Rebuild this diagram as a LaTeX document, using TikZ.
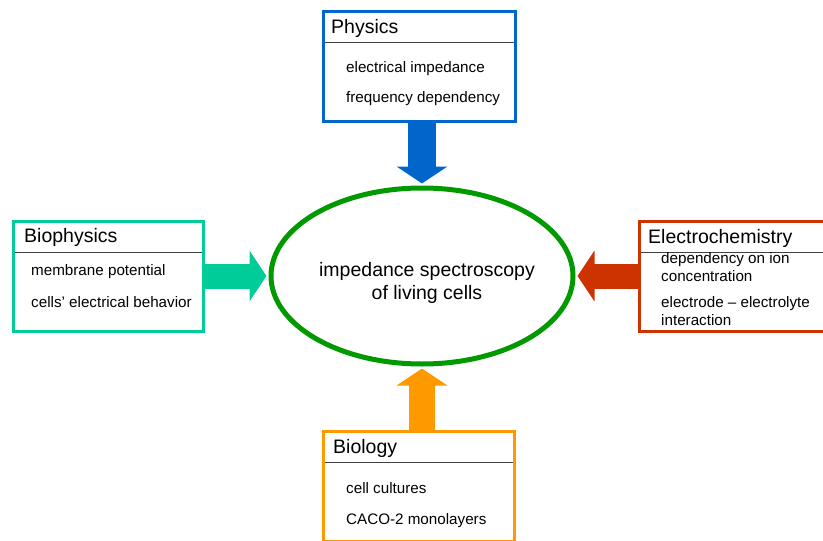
\documentclass[tikz,border=0pt]{standalone}
\usepackage{fontspec}
\setmainfont{Liberation Sans}
\usetikzlibrary{arrows.meta,shapes.geometric}
\definecolor{physblue}{RGB}{0,102,204}
\definecolor{biophysgreen}{RGB}{0,204,153}
\definecolor{chemred}{RGB}{204,51,0}
\definecolor{bioorange}{RGB}{255,153,0}
\definecolor{cellgreen}{RGB}{0,153,0}

\begin{document}
\begin{tikzpicture}[x=1pt,y=-1pt,
        box/.style={draw, line width=3pt, fill=white, inner sep=0pt, outer sep=0pt,
            minimum width=192pt, minimum height=110pt},
        title/.style={anchor=base west, inner sep=0pt, font=\fontsize{19.5}{23}\selectfont},
        item/.style={anchor=base west, inner sep=0pt, align=left, font=\fontsize{15.2}{18}\selectfont},
        sep/.style={draw=black!75, line width=0.8pt, shorten <=1.5pt, shorten >=1.5pt},
        fat/.style={line width=#1, -{Triangle[width=50pt,length=17pt]}, shorten >=2pt}]
        \clip (0,0) rectangle (823,541);
        \fill[white] (0,0) rectangle (823,541);

        \coordinate (physpos) at (419.5,66.5);
        \coordinate (biophyspos) at (108.5,276.5);
        \coordinate (chempos) at (735.5,276.5);
        \coordinate (biopos) at (419,486.5);
        \coordinate (cellpos) at (422,276);

        \node[draw=cellgreen, line width=5pt, ellipse, inner sep=0pt,
            minimum width=302pt, minimum height=176pt] (cell) at (cellpos) {};
        \node[align=center, inner sep=0pt, font=\fontsize{19.5}{23}\selectfont] (celltext)
            at (427,283) {impedance spectroscopy\\of living cells};

        % Physics
        \node[box, draw=physblue] (phys) at (physpos) {};
        \draw[sep] ([yshift=-30.5pt]phys.north west) -- ([yshift=-30.5pt]phys.north east);
        \node[title] (physT) at (331,33) {Physics};
        \node[item] (physA) at (346,72) {electrical impedance};
        \node[item] (physB) at (346,102) {frequency dependency};

        % Biophysics
        \node[box, draw=biophysgreen, minimum width=190pt] (biophys) at (biophyspos) {};
        \draw[sep] ([yshift=-30.5pt]biophys.north west) -- ([yshift=-30.5pt]biophys.north east);
        \node[title] (biophysT) at (24,242) {Biophysics};
        \node[item] (biophysA) at (31,275) {membrane potential};
        \node[item] (biophysB) at (31,307) {cells’ electrical behavior};

        % Electrochemistry
        \node[box, draw=chemred] (chem) at (chempos) {};
        \draw[sep] ([yshift=-30.5pt]chem.north west) -- ([yshift=-30.5pt]chem.north east);
        \node[title] (chemT) at (648,243) {Electrochemistry};
        \node[item] (chemA) at (661,281) {dependency on ion\\concentration};
        \node[item] (chemB) at (661,325) {electrode – electrolyte\\interaction};

        % Biology
        \node[box, draw=bioorange, minimum width=191pt] (bio) at (biopos) {};
        \draw[sep] ([yshift=-30.5pt]bio.north west) -- ([yshift=-30.5pt]bio.north east);
        \node[title] (bioT) at (333,453) {Biology};
        \node[item] (bioA) at (346,493) {cell cultures};
        \node[item] (bioB) at (346,524) {CACO-2 monolayers};

        \draw[fat=28pt, physblue] (cell.north |- phys.south) -- (cell.north);
        \draw[fat=26pt, bioorange] (cell.south |- bio.north) -- (cell.south);
        \draw[fat=25pt, biophysgreen] (biophys.east |- cell.west) -- (cell.west);
        \draw[fat=25pt, chemred] (chem.west |- cell.east) -- (cell.east);
    \end{tikzpicture}
\end{document}
